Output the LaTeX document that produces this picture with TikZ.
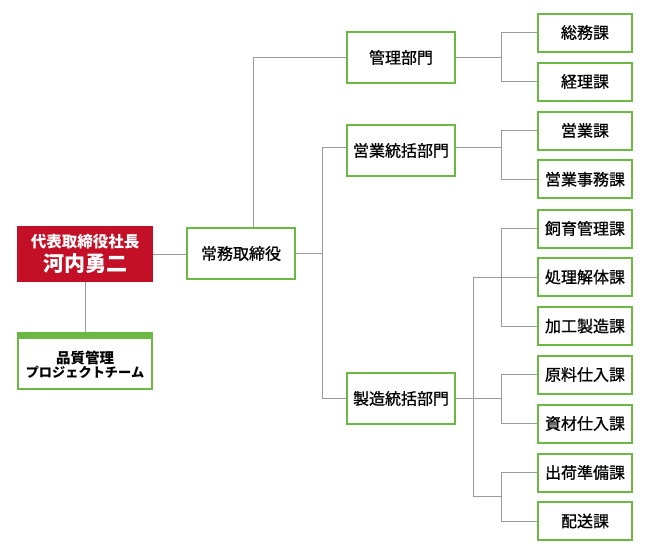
\documentclass[tikz,border=0pt]{standalone}
\usepackage{fontspec}
\setmainfont{Noto Sans CJK JP}[RawFeature={embolden=0.8}]
\newfontfamily\jpplain{Noto Sans CJK JP}
\usetikzlibrary{calc}
\definecolor{boxgreen}{RGB}{108,184,68}
\definecolor{presred}{RGB}{196,16,38}
\definecolor{linegray}{RGB}{155,155,155}
\begin{document}
\begin{tikzpicture}[x=1pt,y=-1pt,
  box/.style={draw=boxgreen,line width=2pt,fill=white,inner sep=0pt,align=center,
    font=\fontsize{16}{19}\selectfont},
  midbox/.style={box,minimum width=108pt,minimum height=51pt},
  smallbox/.style={box,minimum width=94pt,minimum height=38pt},
  conn/.style={draw=linegray,line width=1pt}]
\useasboundingbox (0,0) rectangle (650,550);
\fill[white] (0,0) rectangle (650,550);
% coordinates for bus lines
\coordinate (kx) at (501,0);
\coordinate (ox) at (473,0);
\coordinate (sx) at (322,0);
% nodes
\node[fill=presred,inner sep=0pt,minimum width=136pt,minimum height=56pt,align=center,text=white,font=\jpplain\bfseries]
  (pres) at (85,254) {{\fontsize{15.5}{24}\selectfont 代表取締役社長}\\[3pt]{\fontsize{21}{24}\selectfont 河内勇二}};
\node[box,minimum width=134pt,minimum height=56pt,font=\jpplain\bfseries]
  (qm) at (85,361) {\rule{0pt}{20pt}{\fontsize{14.5}{18.5}\selectfont 品質管理}\\{\fontsize{13.2}{18.5}\selectfont プロジェクトチーム}};
\fill[boxgreen] (17,332) rectangle (153,339);
\node[midbox] (jomu) at (241,253.5) {常務取締役};
\node[midbox] (kanri) at (401,57.5) {管理部門};
\node[midbox] (eigyo) at (401,150.5) {営業統括部門};
\node[midbox] (seizo) at (401,398.5) {製造統括部門};
\node[smallbox] (somu) at (585,32.5) {総務課};
\node[smallbox] (keiri) at (585,81.5) {経理課};
\node[smallbox] (eigyoka) at (585,130.5) {営業課};
\node[smallbox] (jimu) at (585,179.3) {営業事務課};
\node[smallbox] (shiiku) at (585,228.5) {飼育管理課};
\node[smallbox] (shori) at (585,277) {処理解体課};
\node[smallbox] (kako) at (585,326) {加工製造課};
\node[smallbox] (genryo) at (585,374.5) {原料仕入課};
\node[smallbox] (shizai) at (585,423.5) {資材仕入課};
\node[smallbox] (shukka) at (585,472.5) {出荷準備課};
\node[smallbox] (haiso) at (585,521) {配送課};
% connectors
\draw[conn] (pres.east) -- (pres.east -| jomu.west);
\draw[conn] (pres.south) -- (qm.north);
\draw[conn] ([xshift=12pt]jomu.north) |- (kanri.west);
\draw[conn] (jomu.east) -- (jomu.east -| sx);
\draw[conn] ([yshift=3pt]eigyo.west) -| (seizo.west -| sx) -- (seizo.west);
\draw[conn] (kanri.east) -- (kanri.east -| kx);
\draw[conn] (somu.west) -- (somu.west -| kx) -- (keiri.west -| kx) -- (keiri.west);
\draw[conn] ([yshift=3pt]eigyo.east) -- ([yshift=3pt]eigyo.east -| kx);
\draw[conn] (eigyoka.west) -- (eigyoka.west -| kx) -- (jimu.west -| kx) -- (jimu.west);
\draw[conn] (shiiku.west) -- (shiiku.west -| kx) -- (kako.west -| kx) -- (kako.west);
\draw[conn] (genryo.west) -- (genryo.west -| kx) -- (shizai.west -| kx) -- (shizai.west);
\draw[conn] (shukka.west) -- (shukka.west -| kx) -- (haiso.west -| kx) -- (haiso.west);
\draw[conn] (seizo.east) -- (seizo.east -| kx);
\coordinate (g3) at ($(shukka.west -| kx)!0.5!(haiso.west -| kx)$);
\draw[conn] (shori.west) -- (shori.west -| ox) -- (g3 -| ox) -- (g3);
\end{tikzpicture}
\end{document}
